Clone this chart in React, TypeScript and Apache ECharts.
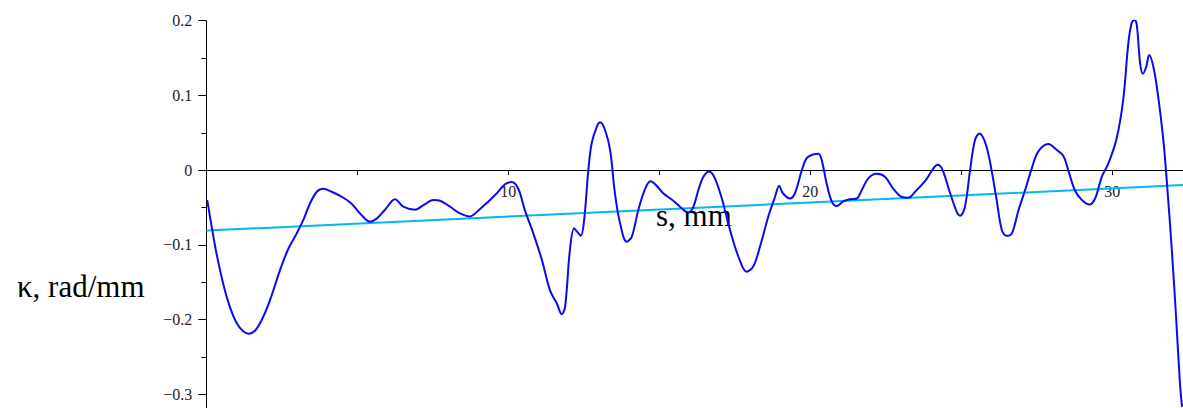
import React, { useEffect, useRef } from "react";
import * as echarts from "echarts";

// arc length s (mm)
const sValues = [
  0.03, 0.18, 0.34, 0.56, 0.78, 1.01, 1.23, 1.41, 1.61, 1.83, 2.11, 2.44, 2.72, 2.99, 3.21, 3.43,
  3.66, 3.87, 4.15, 4.54, 4.81, 5.09, 5.42, 5.64, 5.92, 6.25, 6.52, 6.91, 7.19, 7.52, 7.74, 8.07,
  8.40, 8.73, 9.01, 9.34, 9.62, 9.89, 10.11, 10.33, 10.55, 10.83, 11.11, 11.38, 11.60, 11.77, 11.88,
  12.04, 12.18, 12.29, 12.40, 12.51, 12.65, 12.76, 12.93, 13.04, 13.20, 13.37, 13.53, 13.70, 13.92,
  14.09, 14.30, 14.53, 14.71, 14.91, 15.13, 15.46, 15.74, 15.96, 16.13, 16.29, 16.46, 16.65, 16.84,
  17.07, 17.34, 17.62, 17.89, 18.11, 18.33, 18.61, 18.83, 18.97, 19.09, 19.33, 19.49, 19.72, 19.88,
  20.10, 20.27, 20.38, 20.54, 20.71, 20.87, 21.09, 21.31, 21.54, 21.70, 21.92, 22.20, 22.47, 22.75,
  23.03, 23.25, 23.47, 23.85, 24.07, 24.22, 24.38, 24.63, 24.85, 24.96, 25.12, 25.29, 25.45, 25.60,
  25.78, 25.95, 26.17, 26.34, 26.50, 26.67, 26.89, 27.11, 27.33, 27.55, 27.88, 28.16, 28.38, 28.54,
  28.76, 28.99, 29.24, 29.43, 29.65, 29.87, 30.14, 30.36, 30.53, 30.64, 30.73, 30.81, 30.92, 31.01,
  31.12, 31.22, 31.36, 31.52, 31.69, 31.80, 31.97, 32.11, 32.24, 32.31,
];

// curvature kappa (rad/mm)
const kappaValues = [
  -0.040, -0.076, -0.112, -0.152, -0.183, -0.205, -0.216, -0.219, -0.215, -0.201, -0.174, -0.134,
  -0.105, -0.085, -0.067, -0.045, -0.029, -0.025, -0.029, -0.037, -0.045, -0.058, -0.069, -0.065,
  -0.053, -0.039, -0.049, -0.053, -0.047, -0.040, -0.041, -0.049, -0.058, -0.062, -0.054, -0.042,
  -0.031, -0.019, -0.016, -0.025, -0.054, -0.085, -0.120, -0.161, -0.178, -0.193, -0.183, -0.107,
  -0.078, -0.083, -0.088, -0.067, 0.000, 0.036, 0.058, 0.064, 0.054, 0.027, -0.031, -0.071, -0.096,
  -0.089, -0.054, -0.025, -0.015, -0.021, -0.031, -0.041, -0.051, -0.057, -0.049, -0.027, -0.009,
  -0.002, -0.011, -0.038, -0.080, -0.116, -0.136, -0.129, -0.103, -0.062, -0.036, -0.021, -0.031,
  -0.038, -0.031, 0.000, 0.016, 0.021, 0.022, 0.013, -0.018, -0.042, -0.048, -0.042, -0.039, -0.038,
  -0.027, -0.011, -0.005, -0.009, -0.025, -0.036, -0.037, -0.029, -0.012, 0.002, 0.007, 0.000,
  -0.031, -0.056, -0.061, -0.049, 0.000, 0.040, 0.049, 0.038, 0.011, -0.040, -0.080, -0.088, -0.085,
  -0.054, -0.027, 0.002, 0.025, 0.035, 0.027, 0.019, 0.000, -0.027, -0.040, -0.046, -0.038, -0.009,
  0.009, 0.042, 0.094, 0.170, 0.197, 0.201, 0.194, 0.143, 0.129, 0.138, 0.154, 0.138, 0.098, 0.040,
  -0.013, -0.107, -0.196, -0.286, -0.317,
];

// linear trend line endpoints
const trendS = [0, 32.34];
const trendKappa = [-0.081, -0.0201];

const xLabelValues = [10, 20, 30];

const SERIF = "Liberation Serif";
const S_MAX = 32.34;

export default function App() {
  const ref = useRef<HTMLDivElement>(null);

  useEffect(() => {
    if (!ref.current) return;
    const chart = echarts.init(ref.current, null, { renderer: "svg" });
    const curve = sValues.map((s, i) => [s, kappaValues[i]]);
    const trend = trendS.map((s, i) => [s, trendKappa[i]]);

    chart.setOption({
      animation: false,
      backgroundColor: "#ffffff",
      grid: [
        {
          left: 206.3,
          right: 0,
          top: 20.7,
          bottom: -60.9,
          containLabel: false,
          outerBoundsMode: "none",
        },
        {
          // helper grid whose bottom edge sits on kappa = 0, used only for the s tick labels
          left: 206.3,
          right: 0,
          top: 20.7,
          bottom: 238,
          containLabel: false,
          outerBoundsMode: "none",
        },
      ],
      xAxis: [
        {
          type: "value",
          gridIndex: 0,
          min: 0,
          max: S_MAX,
          interval: 5,
          splitLine: { show: false },
          axisLine: { onZero: true, lineStyle: { color: "#000", width: 1 } },
          axisTick: { show: true, length: 5, lineStyle: { color: "#000" } },
          axisLabel: { show: false },
        },
        {
          type: "value",
          gridIndex: 1,
          position: "bottom",
          min: 0,
          max: S_MAX,
          interval: 5,
          splitLine: { show: false },
          axisLine: { show: false, onZero: false },
          axisTick: { show: false },
          axisLabel: {
            margin: 13,
            fontFamily: SERIF,
            fontSize: 16,
            color: "#222",
            showMinLabel: false,
            showMaxLabel: false,
            formatter: (v: number) => {
              const r = Math.round(v);
              return xLabelValues.indexOf(r) >= 0 && Math.abs(v - r) < 1e-6 ? String(r) : "";
            },
          },
        },
      ],
      yAxis: [
        {
          type: "value",
          gridIndex: 0,
          min: -0.4,
          max: 0.2,
          interval: 0.1,
          splitLine: { show: false },
          axisLine: { show: true, onZero: false, lineStyle: { color: "#000", width: 1 } },
          axisTick: { show: true, length: 8, lineStyle: { color: "#000" } },
          minorTick: { show: true, splitNumber: 2, length: 5, lineStyle: { color: "#000" } },
          axisLabel: {
            margin: 14,
            fontFamily: SERIF,
            fontSize: 16,
            color: "#222",
            formatter: (v: number) => {
              const r = Math.round(v * 10) / 10;
              if (r < -0.35) return "";
              if (r === 0) return "0";
              return (r < 0 ? "\u2212" : "") + Math.abs(r).toFixed(1);
            },
          },
        },
        {
          type: "value",
          gridIndex: 1,
          min: 0,
          max: 0.2,
          show: false,
        },
      ],
      graphic: [
        {
          type: "text",
          left: 656,
          top: 200,
          style: {
            text: "s, mm",
            font: `31px ${SERIF}`,
            fill: "#000",
          },
        },
        {
          type: "text",
          left: 17,
          top: 271,
          style: {
            text: "κ, rad/mm",
            font: `31px ${SERIF}`,
            fill: "#000",
          },
        },
      ],
      series: [
        {
          type: "line",
          xAxisIndex: 0,
          yAxisIndex: 0,
          data: trend,
          showSymbol: false,
          lineStyle: { color: "#00b8f5", width: 2 },
          z: 2,
        },
        {
          type: "line",
          xAxisIndex: 0,
          yAxisIndex: 0,
          data: curve,
          showSymbol: false,
          smooth: 0.35,
          lineStyle: { color: "#0a0af0", width: 2 },
          z: 3,
        },
      ],
    });

    return () => chart.dispose();
  }, []);

  return (
    <div
      ref={ref}
      style={{ position: "fixed", left: 0, top: 0, width: 1183, height: 408, background: "#fff" }}
    />
  );
}
